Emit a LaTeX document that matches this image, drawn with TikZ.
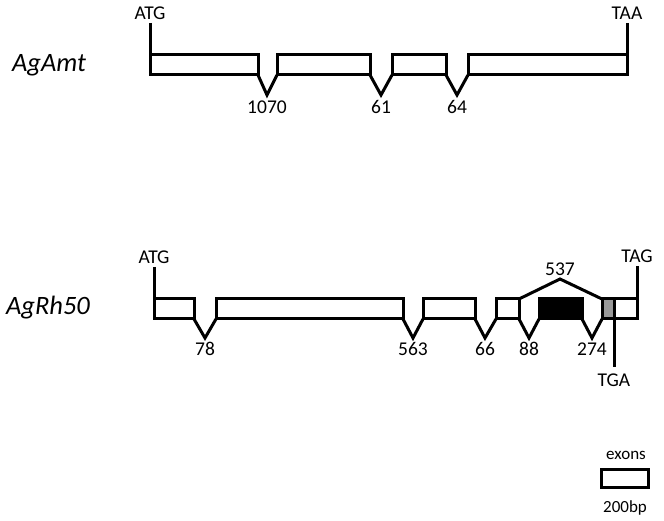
\documentclass[tikz,border=0pt]{standalone}
\usepackage{fontspec}
\setmainfont{Carlito}
\newcommand\exonbox[5][]{% options, name, left, right, top
  \node[exon,minimum width={#4-#3},anchor=north west,#1] (#2) at (#3,#5) {};
}
\tikzset{
    exon/.style={draw,line width=3pt,outer sep=0pt,inner sep=0pt,
                 minimum height=20},
    intron/.style={line width=3pt,line join=miter},
    site/.style={font=\fontsize{19.5}{22}\selectfont},
    gene/.style={font=\fontsize{26.5}{30}\selectfont\itshape,anchor=base},
    legend/.style={font=\fontsize{17}{19}\selectfont}
}
\begin{document}
\begin{tikzpicture}[x=1pt,y=-1pt]
  \useasboundingbox (0,0) rectangle (664,521);

  % AgAmt
  \node[gene] (amt) at (49,71.7) {AgAmt};
  \exonbox{a1}{150}{258}{55}
  \exonbox{a2}{277}{370}{55}
  \exonbox{a3}{392}{446}{55}
  \exonbox{a4}{468}{627}{55}
  \foreach \l/\r/\x/\t in {a1/a2/267/1070,a2/a3/381/61,a3/a4/457/64}{
    \coordinate (i\l) at (\x,95);
    \draw[intron] (\l.south east) -- (i\l) -- (\r.south west);
    \node[site] (n\l) at (\x,107) {\t};
  }
  \node[site] (atgA) at (150,13) {ATG};
  \node[site] (taaA) at (627,13) {TAA};
  \draw[intron] (atgA.south) -- (a1.north west);
  \draw[intron] (taaA.south) -- (a4.north east);

  % AgRh50
  \node[gene] (rh) at (48,314.5) {AgRh50};
  \fill[black!40] (602,299) rectangle (614,319);
  \exonbox{b1}{154}{194}{299}
  \exonbox{b2}{216}{403}{299}
  \exonbox{b3}{423}{475}{299}
  \exonbox{b4}{496}{519}{299}
  \exonbox[fill=black]{b5}{539}{582}{299}
  \exonbox{b6}{602}{637}{299}
  \foreach \l/\r/\x/\t in {b1/b2/205/78,b2/b3/413/563,b3/b4/485/66,
                           b4/b5/529/88,b5/b6/592/274}{
    \coordinate (i\l) at (\x,338);
    \draw[intron] (\l.south east) -- (i\l) -- (\r.south west);
    \node[site] (n\l) at (\x,349) {\t};
  }
  \coordinate (skip) at (560,279);
  \draw[intron] (b4.north east) -- (skip) -- (b6.north west);
  \node[site] (nskip) at (560,269) {537};
  \node[site] (atgB) at (154,257) {ATG};
  \node[site] (tagB) at (637,256) {TAG};
  \draw[intron] (atgB.south) -- (b1.north west);
  \draw[intron] (tagB.south) -- (b6.north east);
  \coordinate (tgaTop) at (614,299);
  \coordinate (tgaEnd) at (614,367);
  \draw[intron] (tgaTop) -- (tgaEnd);
  \node[site] (tgaB) at (614,380) {TGA};

  % legend
  \node[legend] (lgtxt) at (626,455) {exons};
  \exonbox[minimum height=18]{lg}{601}{648}{469}
  \node[legend] (lgbp) at (625,508) {200bp};

\end{tikzpicture}
\end{document}
